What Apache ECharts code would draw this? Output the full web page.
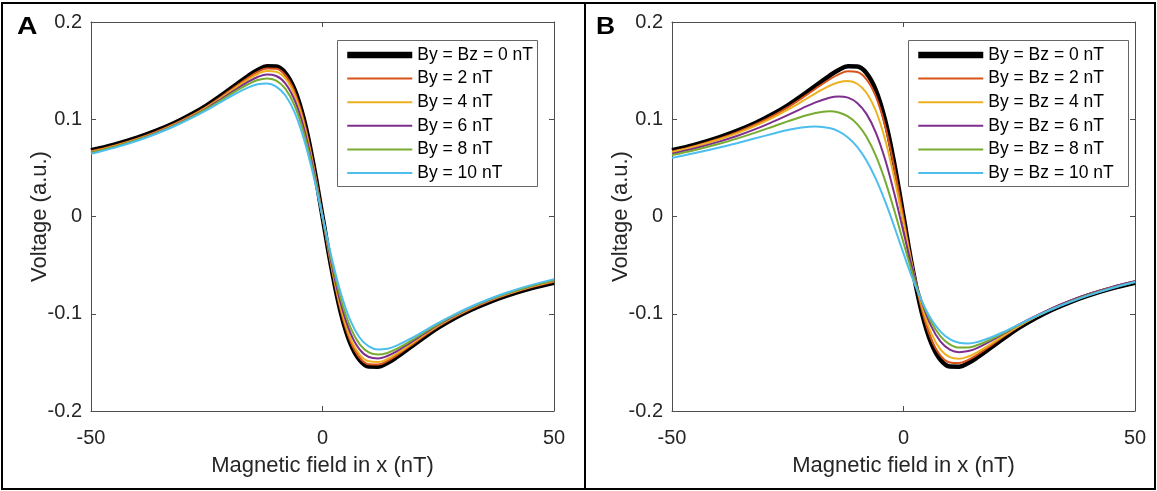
<!DOCTYPE html>
<html>
<head>
<meta charset="utf-8">
<script src="https://cdn.jsdelivr.net/npm/echarts@6/dist/echarts.min.js"></script>
<style>
html,body{margin:0;padding:0;background:#fff;}
#chart{width:1157px;height:491px;}
</style>
</head>
<body>
<div id="chart"></div>
<script>
// Magnetic field in x (nT)
const fieldX = [-50,-45,-40,-36,-32,-28,-25,-22,-19,-16,-14,-12,-10,-8,-6,-4,-2,0,2,4,6,8,10,12,14,16,19,22,25,28,32,36,40,45,50];

const xTicks = [-50, 0, 50];
const yTicks = [-0.2, -0.1, 0, 0.1, 0.2];

// Panel A: By only
const namesA = ['By = Bz = 0 nT','By = 2 nT','By = 4 nT','By = 6 nT','By = 8 nT','By = 10 nT'];
const aBy0  = [0.0681,0.0739,0.0811,0.0880,0.0961,0.1059,0.1143,0.1240,0.1344,0.1447,0.1506,0.1544,0.1543,0.1475,0.1303,0.0996,0.0546,0,-0.0546,-0.0996,-0.1303,-0.1475,-0.1543,-0.1544,-0.1506,-0.1447,-0.1344,-0.1240,-0.1143,-0.1059,-0.0961,-0.0880,-0.0811,-0.0739,-0.0681];
const aBy2  = [0.0670,0.0728,0.0800,0.0869,0.0951,0.1047,0.1131,0.1226,0.1329,0.1429,0.1486,0.1523,0.1520,0.1451,0.1280,0.0977,0.0535,0,-0.0535,-0.0977,-0.1280,-0.1451,-0.1520,-0.1523,-0.1486,-0.1429,-0.1329,-0.1226,-0.1131,-0.1047,-0.0951,-0.0869,-0.0800,-0.0728,-0.0670];
const aBy4  = [0.0663,0.0722,0.0794,0.0863,0.0944,0.1040,0.1123,0.1216,0.1315,0.1411,0.1465,0.1497,0.1489,0.1417,0.1245,0.0947,0.0517,0,-0.0517,-0.0947,-0.1245,-0.1417,-0.1489,-0.1497,-0.1465,-0.1411,-0.1315,-0.1216,-0.1123,-0.1040,-0.0944,-0.0863,-0.0794,-0.0722,-0.0663];
const aBy6  = [0.0656,0.0716,0.0788,0.0857,0.0937,0.1032,0.1113,0.1203,0.1297,0.1386,0.1434,0.1459,0.1445,0.1367,0.1194,0.0903,0.0491,0,-0.0491,-0.0903,-0.1194,-0.1367,-0.1445,-0.1459,-0.1434,-0.1386,-0.1297,-0.1203,-0.1113,-0.1032,-0.0937,-0.0857,-0.0788,-0.0716,-0.0656];
const aBy8  = [0.0653,0.0714,0.0786,0.0855,0.0935,0.1028,0.1106,0.1192,0.1281,0.1362,0.1403,0.1420,0.1397,0.1312,0.1137,0.0853,0.0461,0,-0.0461,-0.0853,-0.1137,-0.1312,-0.1397,-0.1420,-0.1403,-0.1362,-0.1281,-0.1192,-0.1106,-0.1028,-0.0935,-0.0855,-0.0786,-0.0714,-0.0653];
const aBy10 = [0.0644,0.0706,0.0779,0.0848,0.0928,0.1019,0.1095,0.1176,0.1257,0.1328,0.1360,0.1368,0.1336,0.1244,0.1069,0.0795,0.0428,0,-0.0428,-0.0795,-0.1069,-0.1244,-0.1336,-0.1368,-0.1360,-0.1328,-0.1257,-0.1176,-0.1095,-0.1019,-0.0928,-0.0848,-0.0779,-0.0706,-0.0644];

// Panel B: By = Bz
const namesB = ['By = Bz = 0 nT','By = Bz = 2 nT','By = Bz = 4 nT','By = Bz = 6 nT','By = Bz = 8 nT','By = Bz = 10 nT'];
const bB0  = [0.0681,0.0739,0.0811,0.0880,0.0961,0.1059,0.1143,0.1240,0.1344,0.1447,0.1506,0.1544,0.1543,0.1475,0.1303,0.0996,0.0546,0,-0.0546,-0.0996,-0.1303,-0.1475,-0.1543,-0.1544,-0.1506,-0.1447,-0.1344,-0.1240,-0.1143,-0.1059,-0.0961,-0.0880,-0.0811,-0.0739,-0.0681];
const bB2  = [0.0668,0.0726,0.0797,0.0865,0.0946,0.1040,0.1122,0.1215,0.1314,0.1409,0.1462,0.1493,0.1485,0.1410,0.1237,0.0936,0.0504,-0.0015,-0.0533,-0.0963,-0.1261,-0.1430,-0.1501,-0.1507,-0.1474,-0.1419,-0.1322,-0.1221,-0.1127,-0.1045,-0.0949,-0.0870,-0.0799,-0.0728,-0.0669];
const bB4  = [0.0661,0.0719,0.0789,0.0855,0.0932,0.1022,0.1098,0.1181,0.1267,0.1344,0.1380,0.1393,0.1365,0.1272,0.1090,0.0797,0.0397,-0.0070,-0.0533,-0.0923,-0.1202,-0.1369,-0.1447,-0.1463,-0.1439,-0.1394,-0.1306,-0.1213,-0.1124,-0.1044,-0.0950,-0.0869,-0.0800,-0.0729,-0.0669];
const bB6  = [0.0645,0.0701,0.0767,0.0828,0.0898,0.0978,0.1042,0.1110,0.1174,0.1222,0.1235,0.1222,0.1168,0.1055,0.0866,0.0591,0.0238,-0.0160,-0.0550,-0.0883,-0.1130,-0.1287,-0.1369,-0.1395,-0.1384,-0.1350,-0.1276,-0.1193,-0.1110,-0.1035,-0.0944,-0.0865,-0.0797,-0.0726,-0.0666];
const bB8  = [0.0632,0.0684,0.0745,0.0801,0.0862,0.0928,0.0978,0.1026,0.1065,0.1081,0.1069,0.1029,0.0950,0.0820,0.0628,0.0372,0.0064,-0.0270,-0.0594,-0.0874,-0.1088,-0.1232,-0.1314,-0.1348,-0.1347,-0.1322,-0.1262,-0.1188,-0.1113,-0.1041,-0.0953,-0.0875,-0.0807,-0.0735,-0.0673];
const bB10 = [0.0603,0.0652,0.0706,0.0754,0.0804,0.0854,0.0889,0.0915,0.0926,0.0910,0.0875,0.0813,0.0716,0.0576,0.0390,0.0160,-0.0103,-0.0380,-0.0645,-0.0875,-0.1057,-0.1184,-0.1262,-0.1299,-0.1306,-0.1290,-0.1242,-0.1178,-0.1109,-0.1041,-0.0956,-0.0879,-0.0811,-0.0737,-0.0674];

const seriesA = [aBy0, aBy2, aBy4, aBy6, aBy8, aBy10];
const seriesB = [bB0, bB2, bB4, bB6, bB8, bB10];

const colors = ['#000000','#D95319','#EDB120','#7E2F8E','#77AC30','#4DBEEE'];
const widths = [4.5, 2, 2, 2, 2, 2];
const legendWidths = [6.5, 2, 2, 2, 2, 2];

const FONT = 'Liberation Sans, Arial, Helvetica, sans-serif';
const AX = '#4d4d4d';
const TXT = '#262626';

const grids = [
  {left: 91, top: 22, width: 463, height: 389},
  {left: 672, top: 22, width: 463, height: 389}
];

function xAxes(gi) {
  const base = {
    type: 'value', gridIndex: gi, min: xTicks[0], max: xTicks[xTicks.length-1], interval: 50,
    axisLine: {show: true, onZero: false, lineStyle: {color: AX, width: 1}},
    axisTick: {show: true, inside: true, length: 5, lineStyle: {color: AX}},
    splitLine: {show: false}
  };
  return [
    Object.assign({}, base, {
      position: 'bottom',
      axisLabel: {show: true, fontSize: 20, color: TXT, fontFamily: FONT, margin: 17},
      name: 'Magnetic field in x (nT)', nameLocation: 'middle', nameGap: 44, nameMoveOverlap: false,
      nameTextStyle: {fontSize: 22, color: TXT, fontFamily: FONT}
    }),
    Object.assign({}, base, {position: 'top', axisLabel: {show: false}})
  ];
}
function yAxes(gi) {
  const base = {
    type: 'value', gridIndex: gi, min: yTicks[0], max: yTicks[yTicks.length-1], interval: 0.1,
    axisLine: {show: true, onZero: false, lineStyle: {color: AX, width: 1}},
    axisTick: {show: true, inside: true, length: 5, lineStyle: {color: AX}},
    splitLine: {show: false}
  };
  return [
    Object.assign({}, base, {
      position: 'left',
      axisLabel: {show: true, fontSize: 20, color: TXT, fontFamily: FONT, margin: 9,
        formatter: v => (Math.abs(v) < 1e-9 ? '0' : String(Math.round(v*10)/10))},
      name: 'Voltage (a.u.)', nameLocation: 'middle', nameGap: 40, nameMoveOverlap: false,
      nameTextStyle: {fontSize: 22, color: TXT, fontFamily: FONT}
    }),
    Object.assign({}, base, {position: 'right', axisLabel: {show: false}})
  ];
}

const series = [];
function addSeries(names, arrs, axisIdx) {
  arrs.forEach((arr, i) => {
    series.push({
      name: names[i], type: 'line', xAxisIndex: axisIdx, yAxisIndex: axisIdx,
      data: fieldX.map((x, k) => [x, arr[k]]),
      smooth: 0.4, symbol: 'none', showSymbol: false,
      lineStyle: {color: colors[i], width: widths[i]},
      itemStyle: {color: colors[i]},
      z: 2 + i * 0.01
    });
  });
}
addSeries(namesA, seriesA, 0);
addSeries(namesB, seriesB, 2);

function legend(names, left) {
  return {
    data: names.map((n, i) => ({name: n, lineStyle: {width: legendWidths[i], color: colors[i]}})),
    orient: 'vertical', left: left, top: 45, padding: 0,
    itemWidth: 65, itemHeight: 20, itemGap: 3.6, selectedMode: false,
    itemStyle: {opacity: 0},
    textStyle: {fontSize: 17.5, color: '#000', fontFamily: FONT, lineHeight: 20},
    z: 5
  };
}

const option = {
  animation: false,
  backgroundColor: '#ffffff',
  grid: grids,
  xAxis: xAxes(0).concat(xAxes(1)),
  yAxis: yAxes(0).concat(yAxes(1)),
  legend: [legend(namesA, 344), legend(namesB, 915)],
  series: series,
  graphic: [
    {type: 'rect', shape: {x: 2, y: 3, width: 583, height: 486}, style: {fill: null, stroke: '#000', lineWidth: 2}, z: 10},
    {type: 'rect', shape: {x: 585, y: 3, width: 570, height: 486}, style: {fill: null, stroke: '#000', lineWidth: 2}, z: 10},
    {type: 'rect', shape: {x: 337.5, y: 40.5, width: 200, height: 146}, style: {fill: '#fff', stroke: '#666', lineWidth: 1}, z: 3},
    {type: 'rect', shape: {x: 908.5, y: 40.5, width: 220, height: 146}, style: {fill: '#fff', stroke: '#666', lineWidth: 1}, z: 3},
    {type: 'text', x: 17, y: 15, scaleX: 1.18, style: {text: 'A', fontSize: 24, fontWeight: 900, fontFamily: FONT, fill: '#000'}, z: 10},
    {type: 'text', x: 596, y: 15, scaleX: 1.1, style: {text: 'B', fontSize: 24, fontWeight: 900, fontFamily: FONT, fill: '#000'}, z: 10}
  ]
};

const chart = echarts.init(document.getElementById('chart'), null, {renderer: 'canvas'});
chart.setOption(option);
</script>
</body>
</html>
